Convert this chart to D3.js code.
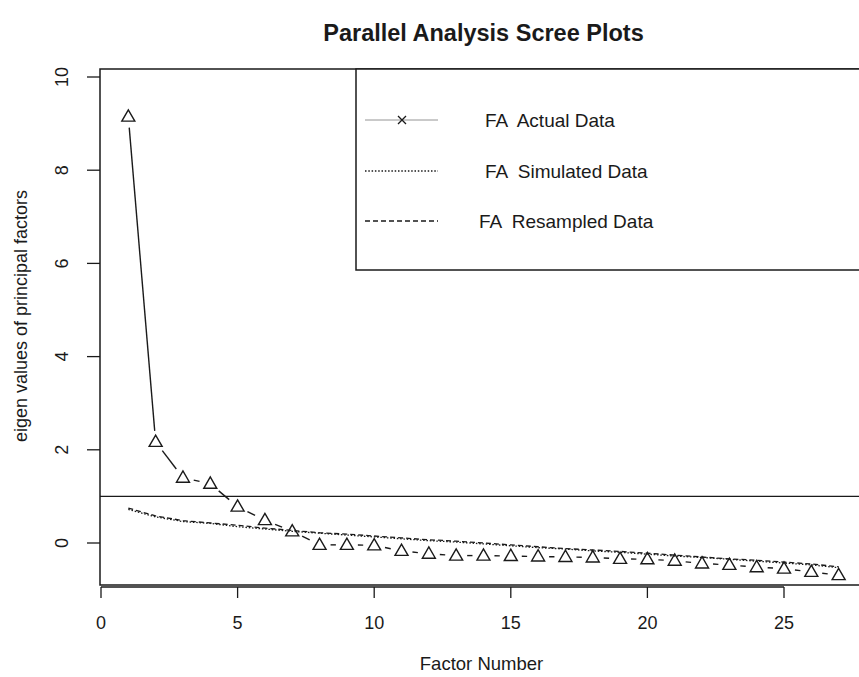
<!DOCTYPE html>
<html>
  <head>
    <script src="https://cdn.jsdelivr.net/npm/d3@7"></script>
    <style>
      body { margin: 0; background: #fff; }
      text { font-family: "Liberation Sans", Arial, sans-serif; fill: #1a1a1a; }
    </style>
  </head>
  <body>
    <div id="chart"></div>
    <script type="text/javascript">
      var factors = d3.range(1, 28);
      var actual = [9.15, 2.17, 1.40, 1.27, 0.78, 0.49, 0.25, -0.04, -0.04, -0.05, -0.17, -0.23, -0.27, -0.27,
                    -0.28, -0.29, -0.30, -0.31, -0.34, -0.35, -0.38, -0.44, -0.47, -0.52, -0.55, -0.62, -0.69];
      var simulated = [0.72, 0.56, 0.46, 0.42, 0.35, 0.30, 0.25, 0.21, 0.17, 0.13, 0.09, 0.05, 0.02, -0.02,
                       -0.06, -0.10, -0.13, -0.17, -0.20, -0.24, -0.28, -0.31, -0.35, -0.39, -0.43, -0.47, -0.53];
      var resampled = [0.75, 0.58, 0.48, 0.43, 0.38, 0.32, 0.27, 0.22, 0.19, 0.15, 0.11, 0.07, 0.04, 0.00,
                       -0.04, -0.08, -0.12, -0.15, -0.18, -0.22, -0.26, -0.30, -0.34, -0.37, -0.41, -0.45, -0.51];
      var xTicks = [0, 5, 10, 15, 20, 25];
      var yTicks = [0, 2, 4, 6, 8, 10];
      var legendItems = ["FA  Actual Data", "FA  Simulated Data", "FA  Resampled Data"];
      var cutoff = 1;

      var ink = "#1a1a1a";

      var svg = d3.select("#chart").append("svg")
          .attr("width", 859)
          .attr("height", 677);

      var x = d3.scaleLinear().domain([0, 25]).range([101, 784]);
      var y = d3.scaleLinear().domain([0, 10]).range([543, 77]);

      var box = { left: 100, top: 69, right: 867, bottom: 585 };

      // title
      svg.append("text")
          .attr("x", (box.left + box.right) / 2)
          .attr("y", 41)
          .attr("text-anchor", "middle")
          .style("font-size", "23.5px")
          .style("font-weight", "bold")
          .text("Parallel Analysis Scree Plots");

      // plot frame
      svg.append("rect")
          .attr("x", box.left)
          .attr("y", box.top)
          .attr("width", box.right - box.left)
          .attr("height", box.bottom - box.top)
          .attr("fill", "none")
          .attr("stroke", ink)
          .attr("stroke-width", 1.5);

      // x axis
      svg.append("line")
          .attr("x1", x(0)).attr("x2", x(25))
          .attr("y1", 587).attr("y2", 587)
          .attr("stroke", ink).attr("stroke-width", 1.3);

      svg.selectAll(".xtick")
          .data(xTicks)
          .enter().append("line")
            .attr("class", "xtick")
            .attr("x1", function(d) { return x(d); })
            .attr("x2", function(d) { return x(d); })
            .attr("y1", 587).attr("y2", 598)
            .attr("stroke", ink).attr("stroke-width", 1.3);

      svg.selectAll(".xlabel")
          .data(xTicks)
          .enter().append("text")
            .attr("class", "xlabel")
            .attr("x", function(d) { return x(d); })
            .attr("y", 629)
            .attr("text-anchor", "middle")
            .style("font-size", "18px")
            .text(function(d) { return d; });

      // y axis
      svg.selectAll(".ytick")
          .data(yTicks)
          .enter().append("line")
            .attr("class", "ytick")
            .attr("x1", 87).attr("x2", 100)
            .attr("y1", function(d) { return y(d); })
            .attr("y2", function(d) { return y(d); })
            .attr("stroke", ink).attr("stroke-width", 1.3);

      svg.selectAll(".ylabel")
          .data(yTicks)
          .enter().append("text")
            .attr("class", "ylabel")
            .attr("transform", function(d) { return "translate(62," + y(d) + ") rotate(-90)"; })
            .attr("dy", "0.35em")
            .attr("text-anchor", "middle")
            .style("font-size", "18px")
            .text(function(d) { return d; });

      svg.append("text")
          .attr("transform", "translate(21,316) rotate(-90)")
          .attr("dy", "0.35em")
          .attr("text-anchor", "middle")
          .style("font-size", "18px")
          .text("eigen values of principal factors");

      svg.append("text")
          .attr("x", (box.left + box.right) / 2 - 2)
          .attr("y", 670)
          .attr("text-anchor", "middle")
          .style("font-size", "18.5px")
          .text("Factor Number");

      // clip for lines that run off the right side
      svg.append("clipPath").attr("id", "plotclip")
        .append("rect")
          .attr("x", box.left).attr("y", box.top)
          .attr("width", box.right - box.left).attr("height", box.bottom - box.top);

      var plot = svg.append("g").attr("clip-path", "url(#plotclip)");

      // eigenvalue = 1 reference line
      plot.append("line")
          .attr("x1", box.left).attr("x2", box.right)
          .attr("y1", y(cutoff)).attr("y2", y(cutoff))
          .attr("stroke", ink).attr("stroke-width", 1.3);

      var line = d3.line()
          .x(function(d, i) { return x(factors[i]); })
          .y(function(d) { return y(d); });

      plot.append("path")
          .attr("d", line(simulated))
          .attr("fill", "none")
          .attr("stroke", ink)
          .attr("stroke-width", 1.3)
          .attr("stroke-dasharray", "1.5,1.8");

      plot.append("path")
          .attr("d", line(resampled))
          .attr("fill", "none")
          .attr("stroke", ink)
          .attr("stroke-width", 1.3)
          .attr("stroke-dasharray", "5,3");

      // actual data: points joined by segments that stop short of each marker
      var gap = 11;
      var segs = d3.pairs(actual.map(function(d, i) { return [x(factors[i]), y(d)]; }))
          .filter(function(p) {
            return Math.hypot(p[1][0] - p[0][0], p[1][1] - p[0][1]) > 2 * gap;
          });

      plot.selectAll(".seg")
          .data(segs)
          .enter().append("line")
            .attr("class", "seg")
            .each(function(p) {
              var dx = p[1][0] - p[0][0], dy = p[1][1] - p[0][1];
              var len = Math.hypot(dx, dy), ux = dx / len, uy = dy / len;
              d3.select(this)
                .attr("x1", p[0][0] + ux * gap).attr("y1", p[0][1] + uy * gap)
                .attr("x2", p[1][0] - ux * gap).attr("y2", p[1][1] - uy * gap);
            })
            .attr("stroke", ink)
            .attr("stroke-width", 1.4);

      var tri = "M-6.5,4.5L6.5,4.5L0,-6.8Z";
      plot.selectAll(".pt")
          .data(actual)
          .enter().append("path")
            .attr("class", "pt")
            .attr("d", tri)
            .attr("transform", function(d, i) { return "translate(" + x(factors[i]) + "," + y(d) + ")"; })
            .attr("fill", "none")
            .attr("stroke", ink)
            .attr("stroke-width", 1.4);

      // legend
      var legend = svg.append("g");
      legend.append("rect")
          .attr("x", 356).attr("y", box.top)
          .attr("width", box.right - 356).attr("height", 270 - box.top)
          .attr("fill", "#fff")
          .attr("stroke", ink)
          .attr("stroke-width", 1.5);

      var legendY = [120, 171, 221];
      var legendDash = [null, "1.5,1.8", "5,3"];
      var legendTextX = [485, 485, 479];

      legend.selectAll(".lline")
          .data(legendItems)
          .enter().append("line")
            .attr("class", "lline")
            .attr("x1", 365).attr("x2", 438)
            .attr("y1", function(d, i) { return legendY[i]; })
            .attr("y2", function(d, i) { return legendY[i]; })
            .attr("stroke", function(d, i) { return i === 0 ? "#888" : ink; })
            .attr("stroke-width", function(d, i) { return i === 0 ? 0.9 : 1.3; })
            .attr("stroke-dasharray", function(d, i) { return legendDash[i]; });

      legend.append("path")
          .attr("d", "M-4,-4L4,4M-4,4L4,-4")
          .attr("transform", "translate(402,120)")
          .attr("stroke", ink)
          .attr("stroke-width", 1.3);

      legend.selectAll(".ltext")
          .data(legendItems)
          .enter().append("text")
            .attr("class", "ltext")
            .attr("x", function(d, i) { return legendTextX[i]; })
            .attr("y", function(d, i) { return legendY[i]; })
            .attr("dy", "0.35em")
            .style("font-size", "19px")
            .style("white-space", "pre")
            .text(function(d) { return d; });
    </script>
  </body>
</html>
